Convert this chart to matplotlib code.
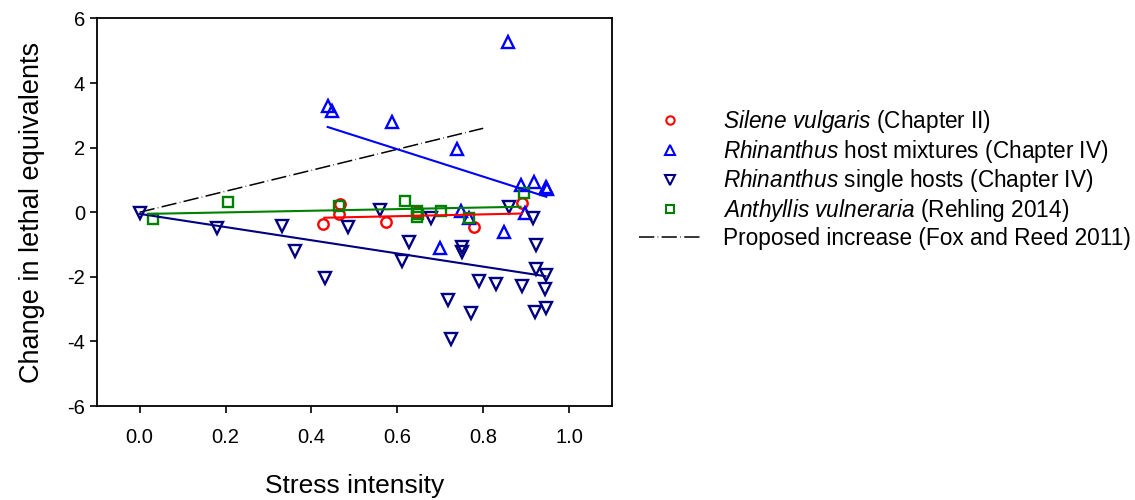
import matplotlib
matplotlib.use("Agg")
import matplotlib.pyplot as plt
from matplotlib.lines import Line2D

plt.rcParams['font.family'] = ['Liberation Sans', 'DejaVu Sans']
plt.rcParams['mathtext.fontset'] = 'custom'
plt.rcParams['mathtext.it'] = 'Liberation Sans:italic'
plt.rcParams['mathtext.rm'] = 'Liberation Sans'

# Silene vulgaris (Chapter II)
silene_x = [0.428, 0.464, 0.467, 0.573, 0.645, 0.778, 0.891]
silene_y = [-0.37, -0.05, 0.26, -0.29, 0.00, -0.46, 0.28]
silene_fit_x = [0.43, 0.89]
silene_fit_y = [-0.17, -0.04]

# Rhinanthus host mixtures (Chapter IV)
mix_x = [0.438, 0.447, 0.587, 0.738, 0.858, 0.888, 0.918, 0.947, 0.949,
         0.748, 0.767, 0.848, 0.897, 0.700]
mix_y = [3.30, 3.15, 2.78, 1.95, 5.26, 0.85, 0.95, 0.79, 0.72,
         0.05, -0.19, -0.60, -0.01, -1.12]
mix_fit_x = [0.438, 0.947]
mix_fit_y = [2.64, 0.48]

# Rhinanthus single hosts (Chapter IV)
single_x = [0.000, 0.181, 0.332, 0.361, 0.432, 0.485, 0.560, 0.679, 0.628,
            0.611, 0.751, 0.751, 0.924, 0.924, 0.946, 0.790, 0.830, 0.891,
            0.945, 0.717, 0.771, 0.921, 0.946, 0.724, 0.860, 0.916]
single_y = [-0.01, -0.48, -0.42, -1.19, -2.03, -0.45, 0.07, -0.19, -0.93,
            -1.50, -1.09, -1.22, -1.01, -1.77, -1.94, -2.12, -2.23, -2.29,
            -2.37, -2.72, -3.11, -3.08, -2.96, -3.92, 0.17, -0.17]
single_fit_x = [0.0, 0.945]
single_fit_y = [-0.05, -1.98]

# Anthyllis vulneraria (Rehling 2014)
anth_x = [0.032, 0.205, 0.464, 0.618, 0.647, 0.649, 0.647, 0.701, 0.767, 0.894]
anth_y = [-0.22, 0.31, 0.20, 0.35, 0.05, -0.06, -0.16, 0.05, -0.19, 0.59]
anth_fit_x = [0.02, 0.887]
anth_fit_y = [-0.05, 0.17]

# Proposed increase (Fox and Reed 2011)
fox_x = [0.0, 0.8]
fox_y = [0.0, 2.6]

red = '#FF0000'
blue = '#0000FF'
navy = '#000080'
green = '#008000'
dash = (10, 2.2, 0.4, 2.2)

fig = plt.figure(figsize=(11.35, 5.0), dpi=100)
ax = fig.add_axes([0.0852, 0.188, 0.4540, 0.775])

mk = dict(linestyle='none', markerfacecolor='none', markeredgewidth=1.7)
ax.plot(fox_x, fox_y, color='black', lw=1.1, dashes=dash)
ax.plot(silene_x, silene_y, marker='o', markersize=7.5, markeredgecolor=red, **mk)
ax.plot(mix_x, mix_y, marker='^', markersize=8.5, markeredgecolor=blue, **mk)
ax.plot(single_x, single_y, marker='v', markersize=8.5, markeredgecolor=navy, **mk)
ax.plot(anth_x, anth_y, marker='s', markersize=7.5, markeredgecolor=green, **mk)
ax.plot(silene_fit_x, silene_fit_y, color=red, lw=1.5)
ax.plot(mix_fit_x, mix_fit_y, color=blue, lw=1.5)
ax.plot(single_fit_x, single_fit_y, color=navy, lw=1.5)
ax.plot(anth_fit_x, anth_fit_y, color=green, lw=1.5)

ax.set_xlim(-0.1, 1.1)
ax.set_ylim(-6, 6)
ax.set_xticks([0.0, 0.2, 0.4, 0.6, 0.8, 1.0])
ax.set_xticklabels(['0.0', '0.2', '0.4', '0.6', '0.8', '1.0'])
ax.set_yticks([-6, -4, -2, 0, 2, 4, 6])
ax.set_yticklabels(['-6', '-4', '-2', '0', '2', '4', '6'])
ax.tick_params(direction='out', length=5, width=1.2, labelsize=14.5,
               top=False, right=False)
ax.tick_params(axis='x', pad=11)
for s in ax.spines.values():
    s.set_linewidth(1.3)
ax.set_xlabel('Stress intensity', fontsize=19, labelpad=19)
ax.set_ylabel('Change in lethal equivalents', fontsize=19.5, labelpad=16)

mk_leg = dict(linestyle='none', markerfacecolor='none', markeredgewidth=1.5)
handles = [
    Line2D([], [], marker='o', markersize=6, markeredgecolor=red, **mk_leg),
    Line2D([], [], marker='^', markersize=6.5, markeredgecolor=blue, **mk_leg),
    Line2D([], [], marker='v', markersize=6.5, markeredgecolor=navy, **mk_leg),
    Line2D([], [], marker='s', markersize=6, markeredgecolor=green, **mk_leg),
    Line2D([], [], color='black', lw=1.1, dashes=dash),
]
labels = [
    r'$\it{Silene\ vulgaris}$ (Chapter II)',
    r'$\it{Rhinanthus}$ host mixtures (Chapter IV)',
    r'$\it{Rhinanthus}$ single hosts (Chapter IV)',
    r'$\it{Anthyllis\ vulneraria}$ (Rehling 2014)',
    'Proposed increase (Fox and Reed 2011)',
]
fig.legend(handles, labels, loc='upper left', bbox_to_anchor=(0.555, 0.802),
           frameon=False, fontsize=16.3, handlelength=2.7, handletextpad=1.0,
           labelspacing=0.12, borderaxespad=0)

fig.savefig('out.png', dpi=100)
